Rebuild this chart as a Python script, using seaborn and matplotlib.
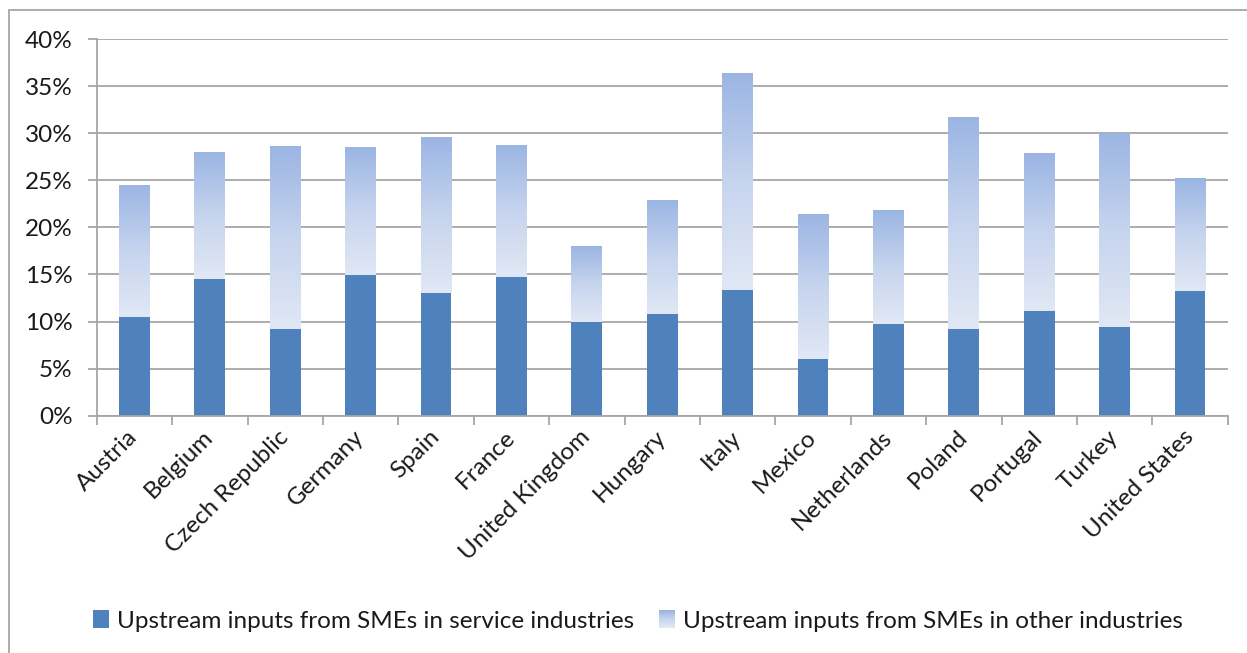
import numpy as np
import pandas as pd
import matplotlib
matplotlib.use("Agg")
import matplotlib.pyplot as plt
import seaborn as sns
from matplotlib.colors import LinearSegmentedColormap
from matplotlib.patches import Rectangle
from matplotlib.lines import Line2D
from matplotlib.legend_handler import HandlerBase

# Share of upstream inputs sourced from SMEs (% of total inputs)
countries = ["Austria", "Belgium", "Czech Republic", "Germany", "Spain", "France",
             "United Kingdom", "Hungary", "Italy", "Mexico", "Netherlands", "Poland",
             "Portugal", "Turkey", "United States"]
service = [10.5, 14.5, 9.2, 14.9, 13.0, 14.7, 9.9, 10.8, 13.3, 6.0, 9.7, 9.2, 11.1, 9.4, 13.2]
other = [14.0, 13.4, 19.4, 13.5, 16.5, 14.0, 8.0, 12.1, 23.0, 15.3, 12.0, 22.5, 16.7, 20.5, 11.9]
yticks = [0, 5, 10, 15, 20, 25, 30, 35, 40]

label_service = "Upstream inputs from SMEs in service industries"
label_other = "Upstream inputs from SMEs in other industries"

dark_blue = "#4F81BD"
grad_cmap = LinearSegmentedColormap.from_list("other_grad", ["#E1E8F5", "#C6D4EE", "#9BB5E3"])
grey = "#A6A6A6"
text_col = "#1a1a1a"
fs = 17.5

sns.set_theme(style="white")
plt.rcParams["font.family"] = ["Lato", "DejaVu Sans"]

W, H = 1247, 653
fig = plt.figure(figsize=(W / 100, H / 100), dpi=100)
x0, x1, y_zero, y_top = 96.7, 1227.7, 415.7, 39.0
ax = fig.add_axes([x0 / W, 1 - y_zero / H, (x1 - x0) / W, (y_zero - y_top) / H])

df = pd.DataFrame({"country": countries, "service": service, "other": other})
df["total"] = df["service"] + df["other"]

bar_w = 0.41
# full stack height first (its fill is replaced by a gradient), then the service part
sns.barplot(data=df, x="country", y="total", color="#C6D4EE", width=bar_w,
            saturation=1, linewidth=0, ax=ax, zorder=2)
n_total = len(ax.patches)
sns.barplot(data=df, x="country", y="service", color=dark_blue, width=bar_w,
            saturation=1, linewidth=0, ax=ax, zorder=4)

grad = np.linspace(0, 1, 256).reshape(-1, 1)
for i, p in enumerate(ax.patches[:n_total]):
    bx, bw = p.get_x(), p.get_width()
    lo, hi = df["service"].iloc[i], df["total"].iloc[i]
    ax.imshow(grad, cmap=grad_cmap, origin="lower", aspect="auto",
              extent=[bx, bx + bw, lo, hi], zorder=3, interpolation="bilinear")
    p.set_visible(False)

ax.set_xlim(-0.5, len(countries) - 0.5)
ax.set_ylim(0, 40)
ax.set_yticks(yticks)
ax.set_yticklabels([f"{v}%" for v in yticks])
ax.set_xlabel("")
ax.set_ylabel("")

ax.set_axisbelow(True)
ax.yaxis.grid(True, color=grey, linewidth=1.3)
ax.xaxis.grid(False)
for s in ["top", "right"]:
    ax.spines[s].set_visible(False)
for s in ["left", "bottom"]:
    ax.spines[s].set_color(grey)
    ax.spines[s].set_linewidth(1.3)
    ax.spines[s].set_zorder(5)

ax.set_xticks(np.arange(-0.5, len(countries), 1.0), minor=True)
ax.tick_params(axis="x", which="major", length=0, pad=13, labelsize=fs, labelcolor=text_col)
ax.tick_params(axis="x", which="minor", length=6.5, width=1.3, color=grey, direction="out", bottom=True)
ax.tick_params(axis="y", which="major", length=6.5, width=1.3, color=grey, direction="out",
               left=True, pad=11, labelsize=fs, labelcolor=text_col)
for lab in ax.get_xticklabels():
    lab.set_rotation(45)
    lab.set_ha("right")
    lab.set_va("center")
    lab.set_rotation_mode("anchor")


class GradientHandler(HandlerBase):
    def create_artists(self, legend, orig_handle, xdescent, ydescent, width, height, fontsize, trans):
        n = 24
        arts = []
        for k in range(n):
            r = Rectangle((-xdescent, -ydescent + height * k / n), width, height / n * 1.05,
                          facecolor=grad_cmap(k / (n - 1)), edgecolor="none", transform=trans)
            arts.append(r)
        return arts


class SolidHandler(HandlerBase):
    def create_artists(self, legend, orig_handle, xdescent, ydescent, width, height, fontsize, trans):
        return [Rectangle((-xdescent, -ydescent), width, height, facecolor=dark_blue,
                          edgecolor="none", transform=trans)]


h_service = Rectangle((0, 0), 1, 1, color=dark_blue)
h_other = Rectangle((0, 0), 1, 1, color="#C6D4EE")
fig.legend([h_service, h_other], [label_service, label_other], loc="center",
           bbox_to_anchor=(638 / W, 1 - 621 / H), ncol=2, frameon=False, fontsize=fs,
           handlelength=0.65, handleheight=0.7, handletextpad=0.35, columnspacing=1.0,
           handler_map={h_service: SolidHandler(), h_other: GradientHandler()},
           labelcolor=text_col)

# outer chart-area border (left and top edges fall inside the image)
fig.add_artist(Line2D([8.5 / W, 8.5 / W], [0, 1 - 9.5 / H], transform=fig.transFigure,
                      color=grey, linewidth=1.3))
fig.add_artist(Line2D([8.5 / W, 1], [1 - 9.5 / H, 1 - 9.5 / H], transform=fig.transFigure,
                      color=grey, linewidth=1.3))

fig.savefig("out.png", dpi=100, facecolor="white")
